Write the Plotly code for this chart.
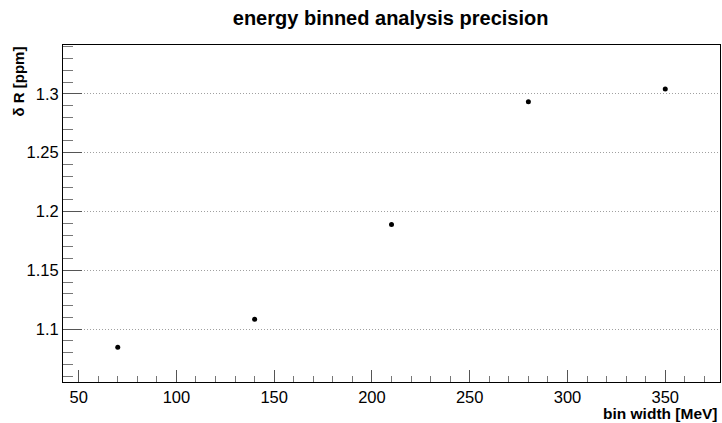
import plotly.graph_objects as go

# Precision of the energy-binned analysis versus bin width
bin_width_mev = [70, 140, 210, 280, 350]
delta_r_ppm = [1.0847, 1.1085, 1.1890, 1.2932, 1.3042]

x_ticks = [50, 100, 150, 200, 250, 300, 350]
y_ticks = [1.1, 1.15, 1.2, 1.25, 1.3]
y_tick_text = ["1.1", "1.15", "1.2", "1.25", "1.3"]

font_family = "Liberation Sans, Arial, sans-serif"

fig = go.Figure()
fig.add_trace(go.Scatter(
    x=bin_width_mev,
    y=delta_r_ppm,
    mode="markers",
    marker=dict(color="black", size=5),
    showlegend=False,
))

fig.update_layout(
    width=722,
    height=423,
    margin=dict(l=63, r=2, t=45, b=41),
    paper_bgcolor="white",
    plot_bgcolor="white",
    font=dict(family=font_family, color="black"),
    title=dict(
        text="<b>energy binned analysis precision</b>",
        x=0.541, xanchor="center",
        y=1 - 18 / 423, yanchor="middle",
        font=dict(size=20, family=font_family, color="black"),
    ),
)

fig.update_xaxes(
    range=[42, 378],
    tickvals=x_ticks,
    ticks="inside",
    ticklen=12,
    tickwidth=1,
    tickcolor="#555",
    tickfont=dict(size=16.5, color="black"),
    showline=True, linecolor="black", linewidth=1, mirror=True,
    showgrid=False, zeroline=False,
    minor=dict(dtick=10, ticks="inside", ticklen=6, tickcolor="#777", showgrid=False),
)

fig.update_yaxes(
    range=[1.0551, 1.3415],
    tickvals=y_ticks,
    ticktext=y_tick_text,
    ticks="inside",
    ticklen=19,
    tickwidth=1,
    tickcolor="#555",
    tickfont=dict(size=16.5, color="black"),
    showline=True, linecolor="black", linewidth=1, mirror=True,
    showgrid=True, gridcolor="#a0a0a0", griddash="1px,2px", gridwidth=1,
    zeroline=False,
    minor=dict(dtick=0.01, tick0=1.0, ticks="inside", ticklen=10, tickcolor="#777", showgrid=False),
)

fig.add_annotation(
    text="<b>δ R [ppm]</b>",
    xref="paper", yref="paper",
    x=0, y=1,
    xanchor="center", yanchor="top",
    xshift=-45.5,
    textangle=-90,
    showarrow=False,
    font=dict(size=15, family=font_family, color="black"),
)

fig.add_annotation(
    text="<b>bin width [MeV]</b>",
    xref="paper", yref="paper",
    x=1, y=0,
    xanchor="right", yanchor="top",
    yshift=-21,
    showarrow=False,
    font=dict(size=15.5, family=font_family, color="black"),
)

fig.write_html("out.html")
